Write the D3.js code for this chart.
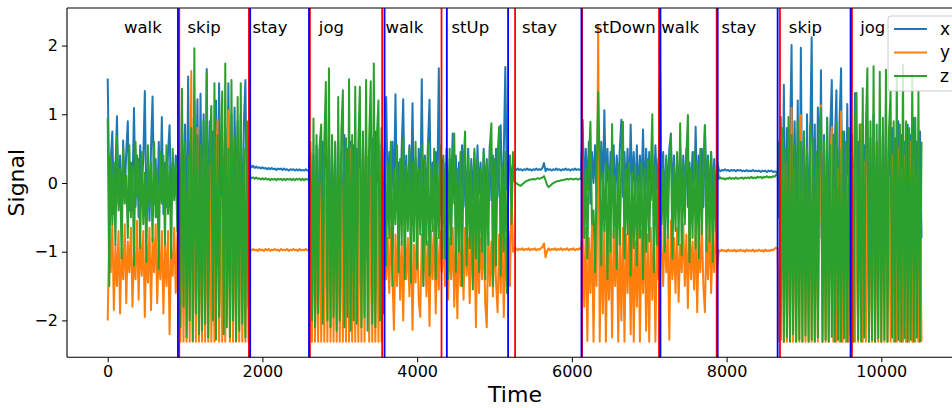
<!DOCTYPE html>
<html><head><meta charset="utf-8">
<script src="https://cdn.jsdelivr.net/npm/d3@7"></script>
<style>
html,body{margin:0;padding:0;background:#fff;overflow:hidden}
svg{display:block;font-family:"DejaVu Sans",sans-serif}
</style></head>
<body><svg id="chart" width="952" height="408"></svg>
<script>
// ---- data ----
const activities = ["walk","skip","stay","jog","walk","stUp","stay","stDown","walk","stay","skip","jog"];
const segStart   = [0,920,1840,2620,3580,4340,5200,6140,7140,7900,8680,9620];   // first sample time of each stored block
const labelTime  = [210,1032,1872,2729,3591,4444,5356,6286,7157,7933,8805,9727]; // where each activity label starts
const redLines   = [925,1826,2614,3548,4315,5266,6132,7127,7872,8690,9620];
const blueLines  = [908,1842,2602,3579,4384,5176,6124,7145,7885,8660,9603];
const sampleStep = 20;
const xTicks = [0,2000,4000,6000,8000,10000];
const yTicks = [-2,-1,0,1,2];
const seriesNames = ["x","y","z"];

// signal values in hundredths, one block per activity, one value every 20 samples
const xSignal = [
 [152,-10,35,75,-45,20,97,-30,40,-55,62,-20,45,90,-40,30,-15,109,-35,40,-50,55,-10,35,134,-40,25,-55,50,126,-30,35,-50,60,-20,96,-45,30,-35,45,84,-40,30,-20,40,25],
 [60,-90,110,-60,85,-110,155,-70,95,-130,120,-40,122,-100,130,-60,100,-90,166,-80,90,-120,75,-50,120,-100,145,-70,60,-110,80,-60,145,-90,100,-130,110,-50,90,-80,99,-100,85,150,-60,70],
 [26,23,25,22,24,22,23,21,23,21,22,20,22,20,22,20,21,19,21,20,21,19,21,19,20,18,20,19,20,18,20,18,20,18,19,18,20,18,19],
 [45,-100,40,-120,55,-90,50,-110,60,-130,45,-100,65,-120,50,-90,55,-140,60,-100,45,-110,70,-120,50,-95,60,-130,55,-100,50,-110,75,-125,55,-95,60,-115,50,-100,65,-130,75,-105,60,-120,55,-90],
 [40,125,-30,45,-50,60,-20,129,-40,30,-55,50,122,-35,40,-50,55,-25,116,-45,35,-40,50,-30,151,-50,40,-35,55,121,-40,30,-50,45,-20,167,-45,35],
 [30,-20,50,-40,35,-10,72,-30,40,-45,30,-15,55,-35,25,-20,50,-40,35,-25,45,-30,55,-15,30,-40,50,-20,35,-35,55,-25,40,-30,50,-20,35,84,-40,45,169,-10,30],
 [30,10,25,21,19,21,19,20,18,20,19,21,19,20,18,20,19,21,19,20,19,22,29,17,21,19,20,18,20,19,21,19,20,18,20,19,21,19,20,18,20,19,21,19,20,19,20],
 [92,-20,50,-10,60,-30,45,0,55,-25,40,-15,60,-20,106,-10,50,-30,45,0,55,-25,40,-10,50,92,-20,45,-15,50,-30,85,-10,45,-25,55,-20,40,-10,78,-30,50,-15,45,-25,40,-20,55,-10,35],
 [40,-20,45,-30,35,-10,50,72,-25,40,-35,30,-15,55,-30,40,-20,50,-35,30,-10,45,-25,82,-30,40,-20,50,-35,84,-15,40,-30,45,-20,35,-25,30],
 [19,17,19,18,20,18,19,17,19,18,19,17,19,18,19,17,18,17,19,17,18,17,19,17,18,17,18,16,18,17,18,16,18,17,18,16,17,16,16],
 [-50,96,-120,143,-90,80,-130,60,201,-110,90,-80,120,-140,197,-100,75,-120,100,-90,60,212,-130,85,-100,110,-80,164,-120,70,-140,95,-100,80,150,-90,60,135,-130,90,167,-110,75,-100,115,-120,60],
 [50,-110,131,-90,60,-120,80,-100,55,-130,90,-95,65,-120,100,-110,60,-90,85,-130,70,-100,116,-120,60,-95,80,-130,65,-100,90,-115,70,-90,60,-125,85,-100,70,-120,95,-110,60,-90,75,-80]
];
const ySignal = [
 [-200,-75,-130,-60,-185,-90,-150,-70,-190,-95,-140,-60,-175,-85,-130,-65,-180,-100,-140,-55,-170,-80,-135,-70,-195,-90,-145,-65,-185,-80,-130,-60,-175,-95,-140,-70,-190,-85,-150,-70,-220,-95,-135,-65,-160,-80],
 [-20,-231,20,-231,-40,-231,30,-231,163,-231,10,-231,80,-231,-30,-231,40,-231,-10,-231,30,-231,-50,-231,20,92,-231,-20,-231,40,-231,-10,106,-231,30,-231,-20,-231,50,-231,10,-231,-40,-231,30,-231],
 [-96,-98,-96,-98,-97,-99,-96,-98,-97,-99,-96,-98,-96,-99,-97,-98,-96,-98,-97,-99,-96,-98,-97,-98,-96,-99,-97,-98,-96,-98,-97,-99,-96,-98,-97,-98,-96,-98,-97],
 [-30,-231,10,-231,-50,-231,0,-231,-20,-231,20,-231,33,-231,-40,-231,10,-231,-30,-231,0,-231,-20,-231,15,-231,50,-231,-10,-231,-40,-231,20,-231,63,-231,-20,38,-231,10,-231,-30,-231,0,-231,20,-231,-10],
 [-70,-140,-80,-160,-65,-130,-214,-75,-150,-60,-170,-85,-200,-70,-140,-80,-165,-65,-214,-90,-145,-60,-170,-195,-75,-150,-65,-165,-85,-208,-70,-140,-60,-190,-80,-155,-70,-130],
 [-70,-150,-60,-170,-80,-140,-65,-180,-75,-197,-60,-150,-85,-170,-65,-135,-80,-175,-60,-145,-75,-210,-65,-160,-80,-140,-60,-175,-210,-70,-150,-85,-165,-60,-145,-188,-75,-160,-65,-195,-80,-150,-70],
 [-150,-5,-100,-97,-95,-98,-96,-97,-95,-98,-96,-97,-95,-98,-96,-97,-95,-98,-96,-97,-95,-93,-88,-108,-99,-95,-98,-96,-97,-95,-98,-96,-97,-95,-98,-96,-97,-95,-98,-96,-97,-95,-98,-96,-97,-95,-97],
 [-70,-180,-65,-230,-80,-160,-60,-231,-75,-150,230,-231,-70,-190,-60,-231,-85,-170,-65,-225,-70,-150,-60,-231,-80,-200,-65,-231,-75,-160,-60,-220,-70,-231,-85,-180,-65,-231,-70,-160,-60,-215,-75,-231,-65,-170,-80,-231,-70,-140],
 [195,-90,-150,-60,-130,-75,-228,-55,-140,-80,-160,-65,-173,-90,-130,-60,-150,-75,-182,-55,-140,-85,-155,-65,-188,-80,-130,-60,-150,-188,-75,-140,-55,-160,-85,-130,-60,-120],
 [-98,-99,-97,-99,-98,-100,-97,-99,-98,-99,-97,-100,-98,-99,-97,-99,-98,-100,-97,-99,-98,-99,-97,-100,-98,-99,-97,-99,-98,-100,-97,-99,-98,-99,-97,-98,-96,-94,-95],
 [-231,-20,65,-231,30,-231,-10,-231,109,-231,20,-231,-30,-231,99,-231,10,-231,-20,-231,30,-231,-10,-231,20,-231,-40,113,-231,10,-231,-20,-231,30,82,-231,-10,-231,20,-231,104,-231,-30,-231,10,-231,-20],
 [-231,20,-231,40,-231,-10,86,-231,30,-231,50,-231,10,-231,40,-231,-20,-231,60,-231,30,-231,70,-231,10,-231,40,-231,-10,-231,50,-231,20,-231,40,-231,-20,-231,60,-231,30,-231,10,-231,-30,-231]
];
const zSignal = [
 [95,-150,40,-60,30,-90,67,-40,20,-110,50,-30,10,-80,55,-50,25,-120,60,-20,35,-95,45,-60,15,-115,55,-35,30,-85,60,-50,20,-125,45,-30,40,-90,55,-45,25,-110,50,-25,30,-70],
 [50,-210,137,-180,60,-225,40,-200,80,-230,196,-190,70,-220,55,-215,90,-205,160,-225,60,112,-200,145,-228,70,-195,40,133,-220,174,-210,50,-225,150,-200,65,-230,125,-215,145,-205,50,-225,90,-180],
 [9,7,8,6,8,6,7,5,7,5,7,5,6,4,6,5,6,4,6,5,6,4,6,4,6,5,6,4,6,4,6,5,6,4,6,4,6,5,6],
 [60,-200,94,-210,70,-190,55,85,-205,60,147,-200,167,-210,70,-195,60,-215,125,-200,75,135,-210,65,-195,151,-215,70,-200,140,-205,60,140,-210,75,-195,150,-215,65,148,-205,174,-210,70,120,-200,80,-190],
 [50,-120,30,-80,60,-150,20,-60,55,-130,35,-90,65,-140,25,-70,50,-145,30,-85,60,-125,20,-75,55,-150,35,-90,60,-135,25,-70,50,-140,30,-80,55,-110],
 [40,-110,25,-140,50,-90,30,72,-130,20,-100,45,-150,30,75,-120,40,-95,25,-155,50,-110,35,-130,20,-100,45,-140,30,-90,55,87,-150,35,-120,40,82,-135,25,-100,45,-160,30],
 [40,-60,45,2,0,-2,-3,-4,-2,0,2,3,4,5,5,6,5,6,7,6,7,8,10,4,-3,-6,-4,-2,0,1,2,3,3,4,4,5,5,6,5,6,6,5,6,6,5,6,6],
 [40,-80,20,-110,30,89,-60,-40,-130,10,132,25,-120,15,-70,30,-140,20,-100,86,-80,10,-125,25,-90,35,89,-110,20,-75,30,-135,15,-95,25,-120,10,-80,30,-140,20,-100,35,-85,15,100,-130,25,-90,20],
 [155,-60,20,-100,40,-80,30,67,-110,25,-70,45,-90,87,-105,30,-60,40,99,-115,20,-80,45,-95,30,-110,50,-75,25,84,-100,35,-85,45,-115,20,-70,30],
 [6,8,6,7,5,7,6,8,6,7,6,8,6,7,7,8,6,8,7,8,7,9,7,8,7,9,8,9,7,9,8,10,8,9,8,10,9,12,14],
 [60,-228,80,-231,50,-225,96,-231,70,-220,55,-231,90,-228,60,-231,75,-222,50,-231,85,-228,65,-231,45,-225,80,109,-231,60,-228,95,-231,55,-224,70,-231,88,-228,50,-231,75,-226,60,-231,80,-220],
 [70,-231,90,131,-228,85,-231,138,-225,80,167,-231,90,-228,170,-231,85,-226,162,-231,95,-228,165,-231,80,133,-225,90,-231,157,-228,85,-231,172,-226,90,-231,80,-228,157,-231,95,-225,133,-231,60]
];
const seriesColors = ["#1f77b4","#ff7f0e","#2ca02c"];

// ---- layout ----
const plot = {left: 67, right: 963, top: 8, bottom: 357.3};
const svg = d3.select("#chart");

const x = d3.scaleLinear().domain([-526, 11056]).range([plot.left, plot.right]);
const y = d3.scaleLinear().domain([-2.537, 2.547]).range([plot.bottom, plot.top]);

function toPoints(blocks){
  const pts = [];
  blocks.forEach((blk, j) => blk.forEach((v, k) => pts.push([segStart[j] + sampleStep * k, v / 100])));
  return pts;
}
const series = [xSignal, ySignal, zSignal].map(toPoints);

svg.append("defs").append("clipPath").attr("id","clip")
  .append("rect").attr("x", plot.left).attr("y", plot.top)
  .attr("width", plot.right - plot.left).attr("height", plot.bottom - plot.top);

const line = d3.line().x(d => x(d[0])).y(d => y(d[1]));
const gData = svg.append("g").attr("clip-path","url(#clip)");
series.forEach((pts, i) => {
  gData.append("path").datum(pts).attr("d", line)
    .attr("fill","none").attr("stroke", seriesColors[i])
    .attr("stroke-width", 2).attr("stroke-linejoin","round");
});

// boundary lines
const gV = svg.append("g");
gV.selectAll("line.r").data(redLines).join("line").attr("class","r")
  .attr("x1", d => x(d)).attr("x2", d => x(d)).attr("y1", plot.top).attr("y2", plot.bottom)
  .attr("stroke","#ff0000").attr("stroke-width",1.8);
gV.selectAll("line.b").data(blueLines).join("line").attr("class","b")
  .attr("x1", d => x(d)).attr("x2", d => x(d)).attr("y1", plot.top).attr("y2", plot.bottom)
  .attr("stroke","#0000ff").attr("stroke-width",1.8);

// activity labels
svg.append("g").selectAll("text").data(activities).join("text")
  .attr("x", (d,i) => x(labelTime[i])).attr("y", 33.3)
  .attr("font-size", 16.5).attr("fill","#000").text(d => d);

// axes
const xAxis = d3.axisBottom(x).tickValues(xTicks).tickFormat(d3.format("d")).tickSize(5).tickPadding(3);
const gx = svg.append("g").attr("transform", `translate(0,${plot.bottom})`).call(xAxis);
gx.select(".domain").remove();
gx.selectAll("text").attr("font-size", 16).attr("font-family","DejaVu Sans").attr("fill","#000");
gx.selectAll("line").attr("stroke","#000");

const yAxis = d3.axisLeft(y).tickValues(yTicks).tickFormat(d3.format("d")).tickSize(5).tickPadding(4);
const gy = svg.append("g").attr("transform", `translate(${plot.left},0)`).call(yAxis);
gy.select(".domain").remove();
gy.selectAll("text").attr("font-size", 16).attr("font-family","DejaVu Sans").attr("fill","#000");
gy.selectAll("line").attr("stroke","#000");

// spines
svg.append("line").attr("x1", plot.left).attr("x2", plot.right).attr("y1", plot.bottom).attr("y2", plot.bottom).attr("stroke","#000").attr("stroke-width",1.1);
svg.append("line").attr("x1", plot.left).attr("x2", plot.right).attr("y1", plot.top).attr("y2", plot.top).attr("stroke","#000").attr("stroke-width",1.1);
svg.append("line").attr("x1", plot.left).attr("x2", plot.left).attr("y1", plot.top).attr("y2", plot.bottom).attr("stroke","#000").attr("stroke-width",1.1);

// axis titles
svg.append("text").attr("x", (plot.left + plot.right) / 2).attr("y", 401.7)
  .attr("text-anchor","middle").attr("font-size", 22).text("Time");
svg.append("text").attr("transform", `translate(24,${(plot.top + plot.bottom) / 2}) rotate(-90)`)
  .attr("text-anchor","middle").attr("font-size", 22).text("Signal");

// legend
const lg = svg.append("g");
lg.append("rect").attr("x", 888).attr("y", 16).attr("width", 90).attr("height", 75).attr("rx", 3)
  .attr("fill","#fff").attr("fill-opacity",0.8).attr("stroke","#cccccc").attr("stroke-width",1);
seriesNames.forEach((n, i) => {
  const yy = 29 + i * 23.5;
  lg.append("line").attr("x1", 894).attr("x2", 927).attr("y1", yy).attr("y2", yy)
    .attr("stroke", seriesColors[i]).attr("stroke-width", 1.8);
  lg.append("text").attr("x", 940).attr("y", yy).attr("dy","0.35em").attr("font-size", 17).text(n);
});
</script></body></html>
